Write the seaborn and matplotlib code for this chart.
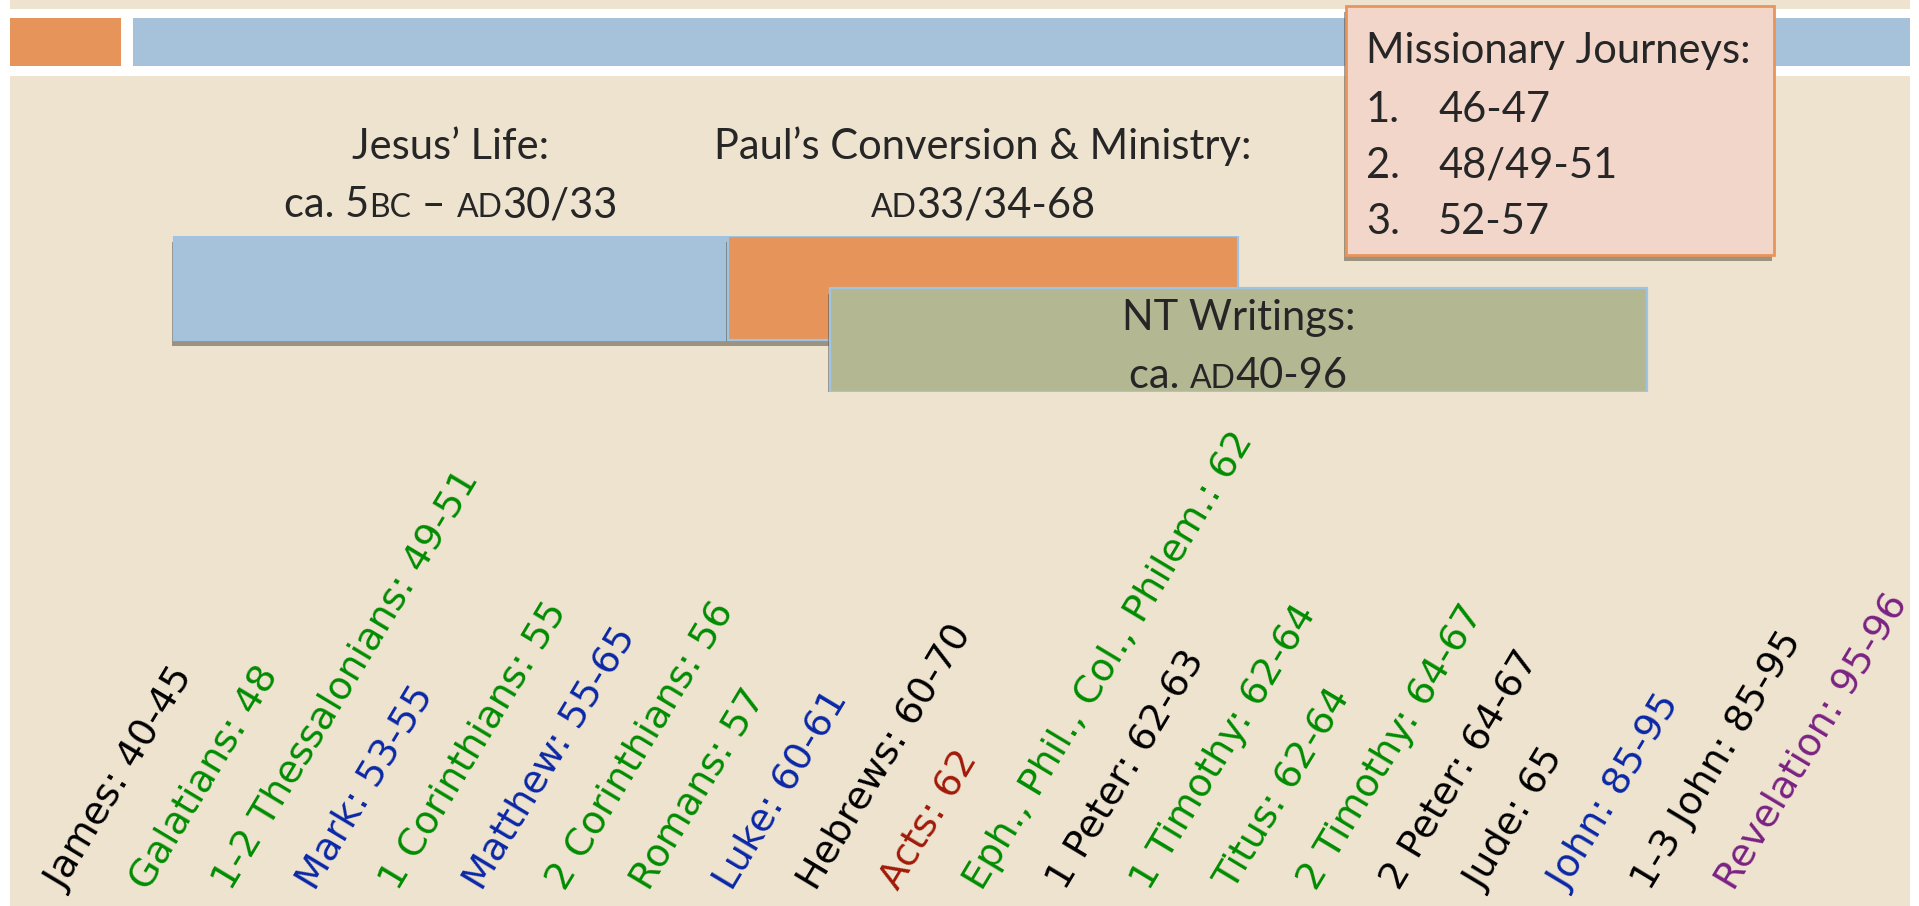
import matplotlib
matplotlib.use("Agg")
import matplotlib.pyplot as plt
import matplotlib.patheffects as pe
from matplotlib.patches import Rectangle
import seaborn as sns

# =========================================
# DATA
# =========================================

periods = ["Jesus' Life", "Paul's Conversion & Ministry", "NT Writings"]
period_start = [-5, 33, 40]
period_end = [33, 68, 96]
period_row = [0, 0, 1]

# caption lines, (text, small caps?) pieces
period_caption = [
    [[("Jesus\u2019 Life:", False)],
     [("ca. 5", False), ("BC", True), (" \u2013 ", False), ("AD", True), ("30/33", False)]],
    [[("Paul\u2019s Conversion & Ministry:", False)],
     [("AD", True), ("33/34-68", False)]],
    [[("NT Writings:", False)],
     [("ca. ", False), ("AD", True), ("40-96", False)]],
]

journey_dates = ["46-47", "48/49-51", "52-57"]

books = ["James", "Galatians", "1-2 Thessalonians", "Mark", "1 Corinthians",
         "Matthew", "2 Corinthians", "Romans", "Luke", "Hebrews", "Acts",
         "Eph., Phil., Col., Philem.", "1 Peter", "1 Timothy", "Titus",
         "2 Timothy", "2 Peter", "Jude", "John", "1-3 John", "Revelation"]
book_dates = ["40-45", "48", "49-51", "53-55", "55", "55-65", "56", "57",
              "60-61", "60-70", "62", "62", "62-63", "62-64", "62-64",
              "64-67", "64-67", "65", "85-95", "85-95", "95-96"]
book_group = ["General", "Pauline", "Pauline", "Gospel", "Pauline",
              "Gospel", "Pauline", "Pauline", "Gospel", "General", "History",
              "Pauline", "General", "Pauline", "Pauline",
              "Pauline", "General", "General", "Gospel", "General", "Prophecy"]

# =========================================
# STYLE
# =========================================

sns.set_theme(style="white")
TITLE_FONT = ["Lato", "DejaVu Sans"]
LABEL_FONT = ["DejaVu Sans"]
plt.rcParams["font.family"] = TITLE_FONT

BEIGE = "#EEE3CF"
BLUE = "#A5C2DA"
ORANGE = "#E6945A"
OLIVE = "#B3B892"
PINK = "#F3D6CA"
period_colors = [BLUE, ORANGE, OLIVE]
group_colors = {"General": "black", "Pauline": "#008C00", "Gospel": "#0A28A6",
                "History": "#A01A08", "Prophecy": "#7A2282"}

W, H = 1919, 906
fig = plt.figure(figsize=(W / 100, H / 100), dpi=100, facecolor="white")
renderer = fig.canvas.get_renderer()

# slide background (pixel coordinates)
bg = fig.add_axes([0, 0, 1, 1])
bg.set_xlim(0, W)
bg.set_ylim(H, 0)
bg.axis("off")
for x0, y0, x1, y1, c in [(10, 0, 1910, 9, BEIGE), (10, 18, 121, 66, ORANGE),
                          (133, 18, 1910, 66, BLUE), (10, 76, 1910, H, BEIGE)]:
    bg.add_patch(Rectangle((x0, y0), x1 - x0, y1 - y0, color=c, lw=0))

shadow = [pe.SimplePatchShadow(offset=(-1.5, -4), shadow_rgbFace="#4a4232", alpha=0.5),
          pe.Normal()]

# =========================================
# TIMELINE BARS
# =========================================

bax = fig.add_axes([0, 1 - 392 / H, 1, 156 / H])
for i in range(len(periods)):
    sns.barplot(x=[period_end[i] - period_start[i]], y=[period_row[i]],
                orient="h", native_scale=True, width=2.0, saturation=1,
                left=period_start[i], color=period_colors[i],
                edgecolor="#9FC3E3", linewidth=1.6, errorbar=None,
                path_effects=shadow, ax=bax)
bax.set_xlim(-16.93, 114.69)
bax.set_ylim(2, -1)
bax.axis("off")
bax.patch.set_alpha(0)


def part_width(text, size):
    probe = bax.text(0, 0, "|" + text + "|", fontsize=size, family=TITLE_FONT)
    w1 = probe.get_window_extent(renderer).width
    probe.set_text("||")
    w0 = probe.get_window_extent(renderer).width
    probe.remove()
    return w1 - w0


def rich_line(x, y, parts, dy, size=30, small=23):
    sizes = [small if sc else size for _, sc in parts]
    widths = [part_width(t, s) for (t, _), s in zip(parts, sizes)]
    cursor = -sum(widths) / 2
    for (t, _), s, w in zip(parts, sizes, widths):
        bax.annotate(t, xy=(x, y), xytext=(cursor, dy), textcoords="offset pixels",
                     fontsize=s, ha="left", va="baseline", family=TITLE_FONT,
                     annotation_clip=False)
        cursor += w


for i in range(len(periods)):
    mid = (period_start[i] + period_end[i]) / 2
    top = period_row[i] - 1
    if i < 2:
        offsets = [77, 19]       # above the bar
    else:
        offsets = [-42, -100]    # inside the bar
    for line, dy in zip(period_caption[i], offsets):
        rich_line(mid, top, line, dy)

# =========================================
# MISSIONARY JOURNEYS BOX
# =========================================

bg.add_patch(Rectangle((1346, 6), 428, 249, facecolor=PINK, edgecolor="#E8945A",
                       lw=2, path_effects=shadow, zorder=5))
bg.text(1366, 63, "Missionary Journeys:", fontsize=30, va="baseline", zorder=6)
for k, d in enumerate(journey_dates):
    yb = 122 + 56 * k
    bg.text(1366, yb, f"{k + 1}.", fontsize=30, va="baseline", zorder=6)
    bg.text(1438, yb, d, fontsize=30, va="baseline", zorder=6)

# =========================================
# BOOK LABELS
# =========================================

lax = fig.add_axes([0, 0, 1, 14 / H])
lax.set_xlim(-64 / 83.5, (W - 64) / 83.5)
lax.set_ylim(0, 1)
lax.axis("off")
lax.patch.set_alpha(0)
for i, (b, d, g) in enumerate(zip(books, book_dates, book_group)):
    lax.text(i, 1, f"{b}: {d}", rotation=59, rotation_mode="anchor",
             ha="left", va="baseline", fontsize=27.5, color=group_colors[g],
             family=LABEL_FONT)

fig.savefig("out.png", dpi=100, facecolor="white")
